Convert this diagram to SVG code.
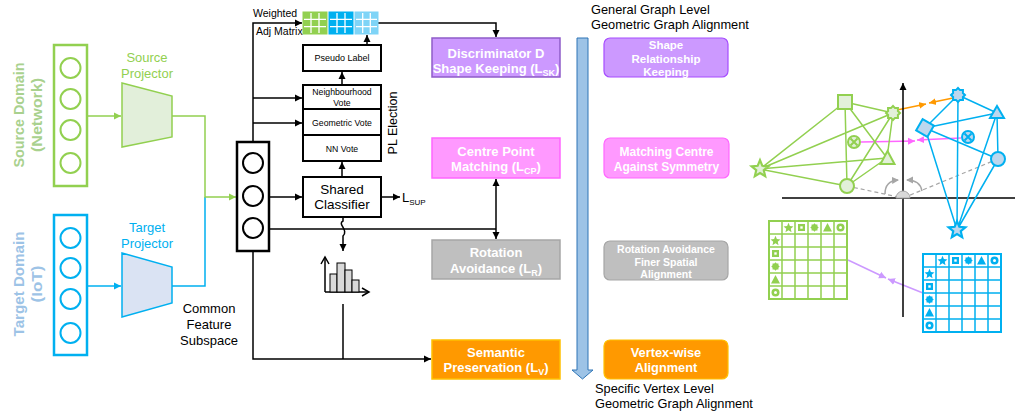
<svg xmlns="http://www.w3.org/2000/svg" xmlns:xlink="http://www.w3.org/1999/xlink" width="1015" height="418" viewBox="0 0 1015 418">
<defs>
<marker id="ab" markerWidth="8" markerHeight="8" refX="7" refY="4" orient="auto" markerUnits="userSpaceOnUse"><path d="M0,0.5 L7,4 L0,7.5 z" fill="#000"/></marker>
<marker id="ag" markerWidth="8" markerHeight="8" refX="7" refY="4" orient="auto" markerUnits="userSpaceOnUse"><path d="M0,0.5 L7,4 L0,7.5 z" fill="#92d050"/></marker>
<marker id="abl" markerWidth="8" markerHeight="8" refX="7" refY="4" orient="auto" markerUnits="userSpaceOnUse"><path d="M0,0.5 L7,4 L0,7.5 z" fill="#00b0f0"/></marker>
<marker id="ao" markerWidth="8" markerHeight="8" refX="7" refY="4" orient="auto" markerUnits="userSpaceOnUse"><path d="M0,0.5 L7,4 L0,7.5 z" fill="#ff9900"/></marker>
<marker id="ap" markerWidth="8" markerHeight="8" refX="7" refY="4" orient="auto" markerUnits="userSpaceOnUse"><path d="M0,0.5 L7,4 L0,7.5 z" fill="#ff66ff"/></marker>
<marker id="au" markerWidth="8" markerHeight="8" refX="7" refY="4" orient="auto" markerUnits="userSpaceOnUse"><path d="M0,0.5 L7,4 L0,7.5 z" fill="#cc99ff"/></marker>
<marker id="ay" markerWidth="8" markerHeight="8" refX="6" refY="4" orient="auto" markerUnits="userSpaceOnUse"><path d="M0,0.5 L7,4 L0,7.5 z" fill="#a6a6a6"/></marker>
<marker id="av" markerWidth="10" markerHeight="10" refX="8" refY="5" orient="auto" markerUnits="userSpaceOnUse"><path d="M1,1 L8,5 L1,9" fill="none" stroke="#000" stroke-width="1.5"/></marker>
<path id="s5" d="M0,-8 L2.12,-2.91 7.61,-2.47 3.42,1.11 4.7,6.47 0,3.6 -4.7,6.47 -3.42,1.11 -7.61,-2.47 -2.12,-2.91 Z"/>
<polygon id="s8" points="0,-7 2.03,-4.9 4.95,-4.95 4.9,-2.03 7,0 4.9,2.03 4.95,4.95 2.03,4.9 0,7 -2.03,4.9 -4.95,4.95 -4.9,2.03 -7,0 -4.9,-2.03 -4.95,-4.95 -2.03,-4.9"/>
<g id="msq"><rect x="-3.5" y="-3.5" width="7" height="7"/><rect x="-1.2" y="-1.2" width="2.4" height="2.4" fill="#fff"/></g>
<g id="mring"><circle r="4"/><circle r="1.5" fill="#fff"/></g>
<path id="mtri" d="M0,-4.5 L4.5,4 L-4.5,4 Z"/>
<g id="cx"><circle r="6"/><path d="M-3.5,-3.5 L3.5,3.5 M3.5,-3.5 L-3.5,3.5"/></g>
</defs>
<style>
text{font-family:"Liberation Sans",Arial,Helvetica,sans-serif}
.t13{font-size:13px}
.wb{fill:#fff;font-weight:bold;text-anchor:middle}
.mid{text-anchor:middle}
.ln{fill:none;stroke:#000;stroke-width:1.5}
.box{fill:#fff;stroke:#000;stroke-width:2}
.gl{fill:none;stroke:#92d050;stroke-width:1.5}
.bl{fill:none;stroke:#00b0f0;stroke-width:1.5}
.gn{fill:#e2f0d9;stroke:#92d050;stroke-width:2}
.bn{fill:#bdd7ee;stroke:#00b0f0;stroke-width:2}
.grid{stroke:#fff;stroke-width:1.3}
</style>
<rect width="1015" height="418" fill="#fff"/>

<!-- connectors -->
<g id="connectors">
<path class="gl" d="M87,116 H121" marker-end="url(#ag)"/>
<path class="bl" d="M87,286 H121" marker-end="url(#abl)"/>
<path class="bl" d="M172,286 H205 V197"/>
<path class="gl" d="M172,116 H205 V197 H236" marker-end="url(#ag)"/>
<path class="ln" d="M253,142 V23 H302" marker-end="url(#ab)"/>
<path class="ln" d="M253,98 H302" marker-end="url(#ab)"/>
<path class="ln" d="M253,123 H302" marker-end="url(#ab)"/>
<path class="ln" d="M269,197 H302" marker-end="url(#ab)"/>
<path class="ln" d="M378,23 H496 V37" marker-end="url(#ab)"/>
<path class="ln" d="M367,45 V35" marker-end="url(#ab)"/>
<path class="ln" d="M342,85 V72" marker-end="url(#ab)"/>
<path class="ln" d="M342,177 V162" marker-end="url(#ab)"/>
<path class="ln" d="M381,197 H400" marker-end="url(#ab)"/>
<path class="ln" d="M269,229 H496"/>
<path class="ln" d="M496,229 V179" marker-end="url(#ab)"/>
<path class="ln" d="M496,229 V239" marker-end="url(#ab)"/>
<path class="ln" d="M343,217 V221 C337,224 349,230 343,236 V251" marker-end="url(#ab)"/>
<path class="ln" d="M253,251 V359 H431" marker-end="url(#ab)"/>
<path class="ln" d="M343,304 V359"/>
<path d="M897,110 L926,104" fill="none" stroke="#ff9900" stroke-width="1.5" marker-end="url(#ao)"/>
<path d="M953,98 L929,103" fill="none" stroke="#ff9900" stroke-width="1.5" marker-end="url(#ao)"/>
<path d="M861,142 L915,141" fill="none" stroke="#ff66ff" stroke-width="1.5" marker-end="url(#ap)"/>
<path d="M961,138 L917,140" fill="none" stroke="#ff66ff" stroke-width="1.5" marker-end="url(#ap)"/>
<path d="M848,260 L886,278" fill="none" stroke="#cc99ff" stroke-width="1.5" marker-end="url(#au)"/>
<path d="M923,293 L888,279" fill="none" stroke="#cc99ff" stroke-width="1.5" marker-end="url(#au)"/>
</g>

<!-- left -->
<g id="source-domain">
<rect x="54" y="45" width="33" height="141" fill="none" stroke="#92d050" stroke-width="2.5"/>
<g fill="none" stroke="#92d050" stroke-width="2"><circle cx="70.5" cy="68" r="10"/><circle cx="70.5" cy="99" r="10"/><circle cx="70.5" cy="130" r="10"/><circle cx="70.5" cy="163" r="10"/></g>
<text transform="translate(24,115) rotate(-90)" class="mid" font-size="14" font-weight="bold" fill="#a9d18e" textLength="105" lengthAdjust="spacingAndGlyphs">Source Domain</text>
<text transform="translate(42,115) rotate(-90)" class="mid" font-size="14" font-weight="bold" fill="#a9d18e" textLength="74" lengthAdjust="spacingAndGlyphs">(Network)</text>
</g>
<g id="target-domain">
<rect x="54" y="215" width="33" height="140" fill="none" stroke="#00b0f0" stroke-width="2.5"/>
<g fill="none" stroke="#00b0f0" stroke-width="2"><circle cx="70.5" cy="238" r="10"/><circle cx="70.5" cy="268" r="10"/><circle cx="70.5" cy="299" r="10"/><circle cx="70.5" cy="333" r="10"/></g>
<text transform="translate(24,284) rotate(-90)" class="mid" font-size="14" font-weight="bold" fill="#9dc3e6" textLength="105" lengthAdjust="spacingAndGlyphs">Target Domain</text>
<text transform="translate(42,284) rotate(-90)" class="mid" font-size="14" font-weight="bold" fill="#9dc3e6" textLength="37" lengthAdjust="spacingAndGlyphs">(IoT)</text>
</g>
<g id="source-projector">
<polygon points="122,83 172,96 172,137 122,147" fill="#e2efda" stroke="#92d050" stroke-width="1.5"/>
<text x="147" y="62" class="t13 mid" fill="#92d050">Source</text>
<text x="147" y="78" class="t13 mid" fill="#92d050">Projector</text>
</g>
<g id="target-projector">
<polygon points="122,253 172,267 172,303 122,317" fill="#dae3f3" stroke="#00b0f0" stroke-width="1.5"/>
<text x="147" y="232" class="t13 mid" fill="#00b0f0">Target</text>
<text x="147" y="248" class="t13 mid" fill="#00b0f0">Projector</text>
</g>
<g id="common-feature">
<rect x="237" y="142" width="32" height="109" fill="#fff" stroke="#000" stroke-width="2.5"/>
<g fill="none" stroke="#000" stroke-width="2"><circle cx="253" cy="163" r="10"/><circle cx="253" cy="196" r="10"/><circle cx="253" cy="228" r="10"/></g>
<text x="209" y="313" class="t13 mid">Common</text>
<text x="209" y="329" class="t13 mid">Feature</text>
<text x="209" y="345" class="t13 mid">Subspace</text>
</g>

<!-- adjacency matrices -->
<g id="adj-matrix">
<text x="253" y="17" font-size="10.5">Weighted</text>
<text x="256" y="35" font-size="10.5">Adj Matrix</text>
<rect x="303" y="12" width="24" height="22" fill="#92d050" stroke="#92d050"/>
<path class="grid" d="M311,13 V33 M319,13 V33 M304,19.3 H326 M304,26.7 H326"/>
<rect x="329" y="12" width="24" height="22" fill="#00b0f0" stroke="#00b0f0"/>
<path class="grid" d="M337,13 V33 M345,13 V33 M330,19.3 H352 M330,26.7 H352"/>
<rect x="355" y="12" width="23" height="22" fill="#7fd4f7" stroke="#7fd4f7"/>
<path class="grid" d="M362.7,13 V33 M370.3,13 V33 M356,19.3 H377 M356,26.7 H377"/>
</g>

<g id="pseudo-label"><rect class="box" x="303" y="45" width="78" height="26"/><text x="342" y="61" font-size="9" class="mid">Pseudo Label</text></g>
<g id="pl-election">
<rect class="box" x="303" y="85" width="78" height="76"/>
<path d="M303,109 H381 M303,135 H381" stroke="#000" stroke-width="2"/>
<text x="342" y="95" font-size="8.7" class="mid">Neighbourhood</text>
<text x="342" y="105.5" font-size="8.7" class="mid">Vote</text>
<text x="342" y="126" font-size="8.7" class="mid">Geometric Vote</text>
<text x="342" y="151.5" font-size="8.7" class="mid">NN Vote</text>
<text transform="translate(397,123) rotate(-90)" font-size="12.5" class="mid">PL Election</text>
</g>
<g id="shared-classifier">
<rect class="box" x="303" y="177" width="78" height="40"/>
<text x="342" y="194" class="mid" font-size="13.5">Shared</text>
<text x="342" y="208.5" class="mid" font-size="13.5">Classifier</text>
<text x="402" y="202" font-size="13">L<tspan font-size="8" dy="3">SUP</tspan></text>
</g>
<g id="histogram">
<path d="M325,292 V257" fill="none" stroke="#000" stroke-width="1.5" marker-end="url(#av)"/>
<path d="M325,292 H369" fill="none" stroke="#000" stroke-width="1.5" marker-end="url(#av)"/>
<g fill="#d9d9d9" stroke="#000" stroke-width="1"><rect x="330" y="274" width="7" height="18"/><rect x="337" y="263" width="8" height="29"/><rect x="345" y="270" width="7" height="22"/><rect x="352" y="280" width="7" height="12"/></g>
</g>

<!-- loss boxes -->
<g id="discriminator">
<rect x="432" y="38" width="128" height="39" fill="#cc99ff" stroke="#8e5cc9" stroke-width="1.5"/>
<text x="496" y="57.5" class="t13 wb">Discriminator D</text>
<text x="496" y="72.5" class="t13 wb">Shape Keeping (L<tspan font-size="9" dy="3">SK</tspan><tspan dy="-3">)</tspan></text>
</g>
<g id="centre-point">
<rect x="432" y="138" width="128" height="40" fill="#ff99ff" stroke="#ff66ff" stroke-width="1.5"/>
<text x="496" y="156" class="t13 wb">Centre Point</text>
<text x="496" y="171" class="t13 wb">Matching (L<tspan font-size="9" dy="3">CP</tspan><tspan dy="-3">)</tspan></text>
</g>
<g id="rotation">
<rect x="432" y="240" width="128" height="39" fill="#bfbfbf" stroke="#a6a6a6" stroke-width="1.5"/>
<text x="496" y="257" class="t13 wb">Rotation</text>
<text x="496" y="272.5" class="t13 wb">Avoidance (L<tspan font-size="9" dy="3">R</tspan><tspan dy="-3">)</tspan></text>
</g>
<g id="semantic">
<rect x="432" y="340" width="128" height="39" fill="#ff9900" stroke="#ffc000" stroke-width="1.5"/>
<text x="496" y="357" class="t13 wb">Semantic</text>
<text x="496" y="372" class="t13 wb">Preservation (L<tspan font-size="9" dy="3">V</tspan><tspan dy="-3">)</tspan></text>
</g>

<!-- level arrow -->
<g id="level-arrow">
<text x="591" y="14" font-size="12.8">General Graph Level</text>
<text x="591" y="28.5" font-size="12.8">Geometric Graph Alignment</text>
<polygon points="577,38 588,38 588,370 593,370 582.5,379 572,370 577,370" fill="#9dc3e6" stroke="#2e75b6" stroke-width="1"/>
<text x="595" y="393" font-size="12.8">Specific Vertex Level</text>
<text x="595" y="408" font-size="12.8">Geometric Graph Alignment</text>
</g>

<!-- alignment boxes -->
<g id="shape-relationship">
<rect x="604" y="38" width="124" height="39" rx="6" fill="#cc99ff" stroke="#a64dff" stroke-width="1.2"/>
<text x="666" y="48.5" font-size="11.5" class="wb">Shape</text>
<text x="666" y="62.5" font-size="11.5" class="wb">Relationship</text>
<text x="666" y="76" font-size="11.5" class="wb">Keeping</text>
</g>
<g id="matching-centre">
<rect x="604" y="138" width="125" height="40" rx="6" fill="#ff99ff" stroke="#ff66ff" stroke-width="1.2"/>
<text x="666.5" y="156" font-size="12" class="wb">Matching Centre</text>
<text x="666.5" y="170.5" font-size="12" class="wb">Against Symmetry</text>
</g>
<g id="rotation-finer">
<rect x="604" y="241" width="124" height="39" rx="6" fill="#bfbfbf" stroke="#a6a6a6" stroke-width="1.2"/>
<text x="666" y="252.5" font-size="10.5" class="wb">Rotation Avoidance</text>
<text x="666" y="265.5" font-size="10.5" class="wb">Finer Spatial</text>
<text x="666" y="278" font-size="10.5" class="wb">Alignment</text>
</g>
<g id="vertex-wise">
<rect x="604" y="340" width="124" height="39" rx="6" fill="#ff9900" stroke="#ffc000" stroke-width="1.2"/>
<text x="666" y="356.5" font-size="12.8" class="wb">Vertex-wise</text>
<text x="666" y="372" font-size="12.8" class="wb">Alignment</text>
</g>

<!-- geometric illustration -->
<g id="axes">
<path d="M782,198 H1015" stroke="#000" stroke-width="1.5"/>
<path d="M903,317 V83" stroke="#000" stroke-width="1.5" fill="none" marker-end="url(#ab)"/>
<path d="M847,186 L903,198 M998,159 L903,198" stroke="#a6a6a6" stroke-width="1.2" stroke-dasharray="4,3" fill="none"/>
<path d="M896,198 A7,7 0 0 1 910,198 Z" fill="#d9d9d9" stroke="#a6a6a6" stroke-width="1"/>
<path d="M885,194 Q885,181 898,180" fill="none" stroke="#a6a6a6" stroke-width="1.5" marker-end="url(#ay)"/>
<path d="M922,191 Q920,180 907,180" fill="none" stroke="#a6a6a6" stroke-width="1.5" marker-end="url(#ay)"/>
</g>
<g id="source-graph">
<path d="M760,169 L845,102 M760,169 L893,113 M760,169 L887,158 M760,169 L847,186 M845,102 L893,113 M845,102 L887,158 M845,102 L847,186 M893,113 L887,158 M893,113 L847,186 M887,158 L847,186" stroke="#92d050" stroke-width="1.5" fill="none"/>
<rect class="gn" x="838" y="95" width="14" height="14"/>
<use xlink:href="#s8" class="gn" transform="translate(893,113)"/>
<polygon class="gn" points="887.5,151 894.5,164 880.5,164"/>
<use xlink:href="#s5" class="gn" transform="translate(760,169) scale(1.1)"/>
<circle class="gn" cx="847" cy="186" r="7"/>
<use xlink:href="#cx" class="gn" transform="translate(854,142)"/>
</g>
<g id="target-graph">
<path d="M958,95 L925,128 M958,95 L997,113 M958,95 L957,230 M925,128 L997,113 M925,128 L998,159 M925,128 L957,230 M997,113 L998,159 M997,113 L957,230 M998,159 L957,230" stroke="#00b0f0" stroke-width="1.5" fill="none"/>
<use xlink:href="#s8" class="bn" transform="translate(958,95)"/>
<rect class="bn" x="-6.5" y="-6.5" width="13" height="13" transform="translate(925,128) rotate(30)"/>
<polygon class="bn" points="997,106 1004,118 990,118"/>
<circle class="bn" cx="998" cy="159" r="7"/>
<use xlink:href="#cx" class="bn" transform="translate(968,137)"/>
<use xlink:href="#s5" class="bn" transform="translate(957,230) scale(1.1)"/>
</g>
<g id="source-matrix">
<rect x="769" y="221" width="78" height="78" fill="#fff" stroke="#92d050" stroke-width="2"/>
<path d="M782,221 V299 M795,221 V299 M808,221 V299 M821,221 V299 M834,221 V299 M769,234 H847 M769,247 H847 M769,260 H847 M769,273 H847 M769,286 H847" stroke="#92d050" stroke-width="1.5"/>
<g fill="#92d050">
<use xlink:href="#s5" transform="translate(788.5,228) scale(0.65)"/>
<use xlink:href="#msq" transform="translate(801.5,227.5)"/>
<use xlink:href="#s8" transform="translate(814.5,227.5) scale(0.6)"/>
<use xlink:href="#mtri" transform="translate(827.5,227.5)"/>
<use xlink:href="#mring" transform="translate(840.5,227.5)"/>
<use xlink:href="#s5" transform="translate(775.5,241) scale(0.65)"/>
<use xlink:href="#msq" transform="translate(775.5,253.5)"/>
<use xlink:href="#s8" transform="translate(775.5,266.5) scale(0.6)"/>
<use xlink:href="#mtri" transform="translate(775.5,279.5)"/>
<use xlink:href="#mring" transform="translate(775.5,292.5)"/>
</g>
</g>
<g id="target-matrix">
<rect x="923" y="254" width="78" height="78" fill="#fff" stroke="#00b0f0" stroke-width="2"/>
<path d="M936,254 V332 M949,254 V332 M962,254 V332 M975,254 V332 M988,254 V332 M923,267 H1001 M923,280 H1001 M923,293 H1001 M923,306 H1001 M923,319 H1001" stroke="#00b0f0" stroke-width="1.5"/>
<g fill="#00b0f0">
<use xlink:href="#s5" transform="translate(942.5,261) scale(0.65)"/>
<use xlink:href="#msq" transform="translate(955.5,260.5)"/>
<use xlink:href="#s8" transform="translate(968.5,260.5) scale(0.6)"/>
<use xlink:href="#mtri" transform="translate(981.5,260.5)"/>
<use xlink:href="#mring" transform="translate(994.5,260.5)"/>
<use xlink:href="#s5" transform="translate(929.5,274) scale(0.65)"/>
<use xlink:href="#msq" transform="translate(929.5,286.5)"/>
<use xlink:href="#s8" transform="translate(929.5,299.5) scale(0.6)"/>
<use xlink:href="#mtri" transform="translate(929.5,312.5)"/>
<use xlink:href="#mring" transform="translate(929.5,325.5)"/>
</g>
</g>
</svg>
